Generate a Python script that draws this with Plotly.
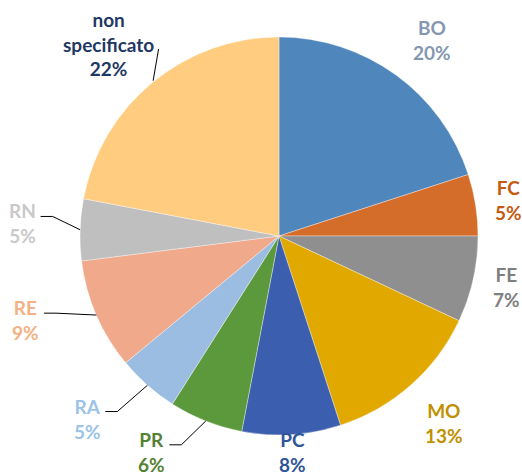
import math
import plotly.graph_objects as go

labels = ["BO", "FC", "FE", "MO", "PC", "PR", "RA", "RE", "RN", "non specificato"]
values = [20, 5, 7, 13, 8, 6, 5, 9, 5, 22]
text_labels = ["BO", "FC", "FE", "MO", "PC", "PR", "RA", "RE", "RN", "non<br>specificato"]

slice_colors = ["#4F87BD", "#D46C2A", "#8F8F8F", "#E1A900", "#3B5EAE", "#5C993C",
                "#9CBDE2", "#F0A98A", "#BFBFBF", "#FFCC80"]
label_colors = ["#8497B0", "#C55A11", "#7F7F7F", "#BF9000", "#2F5597", "#548235",
                "#9DC3E6", "#F4B183", "#C9C9C9", "#1F3864"]

# label placement styling: radial distance (in radii) and angular nudge (deg)
label_r = [1.25, 1.17, 1.17, 1.25, 1.09, 1.26, 1.33, 1.34, 1.29, 1.29]
label_da = [2, 0, 0, 0, 0, 9, 5, 5, 1, -2]
leader = [False, False, False, False, False, True, True, True, True, False]
leader_vertical = [False] * 9 + [True]

W, H = 522, 476
cx, cy, R = 279, 236, 199  # pie center/radius in pixels

fig = go.Figure(go.Pie(
    labels=labels, values=values, sort=False, direction="clockwise", rotation=0,
    marker=dict(colors=slice_colors, line=dict(color="rgba(255,255,255,0.6)", width=0.6)),
    textinfo="none", hoverinfo="label+percent", showlegend=False,
    domain=dict(x=[(cx - R) / W, (cx + R) / W], y=[1 - (cy + R) / H, 1 - (cy - R) / H]),
))

total = sum(values)
cum = 0
annotations = []
shapes = []
for i, v in enumerate(values):
    mid = (cum + v / 2) / total * 360
    cum += v
    a = math.radians(mid + label_da[i])
    lx = cx + R * label_r[i] * math.sin(a)
    ly = cy - R * label_r[i] * math.cos(a)
    pct = round(v / total * 100)
    annotations.append(dict(
        x=lx / W, y=1 - ly / H, xref="paper", yref="paper",
        text=f"{text_labels[i]}<br>{pct}%", showarrow=False,
        font=dict(family="Lato", size=19, color=label_colors[i], weight="bold"),
        align="center", xanchor="center", yanchor="middle",
    ))
    am = math.radians(mid)
    ex = cx + R * math.sin(am)
    ey = cy - R * math.cos(am)
    if leader[i]:
        sx = lx + 18
        sy = ly - 7
        bx = sx + 12
        path = f"M {sx/W},{1-sy/H} L {bx/W},{1-sy/H} L {ex/W},{1-ey/H}"
        shapes.append(dict(type="path", path=path, xref="paper", yref="paper",
                           line=dict(color="black", width=1)))
    if leader_vertical[i]:
        sx = lx + 50
        sy = ly + 5
        path = f"M {sx/W},{1-sy/H} L {(ex+1)/W},{1-(ey-2)/H}"
        shapes.append(dict(type="path", path=path, xref="paper", yref="paper",
                           line=dict(color="black", width=1)))

fig.update_layout(
    width=W, height=H, autosize=False,
    margin=dict(l=0, r=0, t=0, b=0),
    paper_bgcolor="white", plot_bgcolor="white",
    annotations=annotations, shapes=shapes,
)
fig.write_html("out.html", config={"displayModeBar": False},
               post_script="document.body.style.margin='0';")
